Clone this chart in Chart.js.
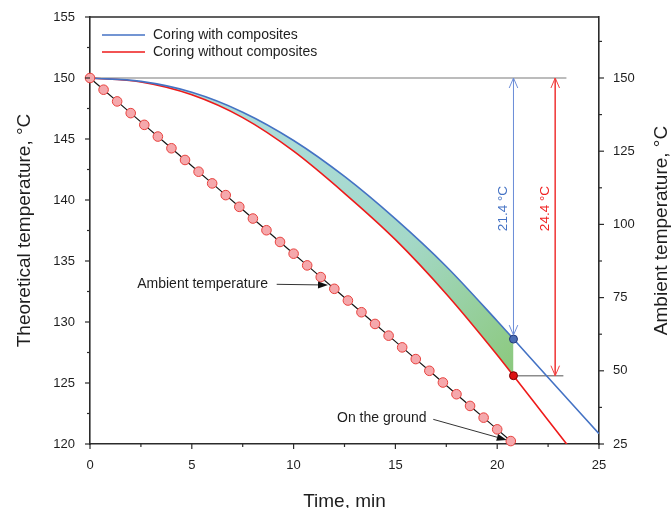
<!DOCTYPE html>
<html>
<head>
<meta charset="utf-8">
<script src="https://cdn.jsdelivr.net/npm/chart.js@4.4.0/dist/chart.umd.min.js"></script>
<style>
  html, body { margin: 0; padding: 0; background: #fff; }
  #wrap { width: 672px; height: 508px; position: relative; }
</style>
</head>
<body>
<div id="wrap"><canvas id="chart"></canvas></div>
<script>
// Model curves (time in min, temperature on left axis)
const curveTimes = [0, 2.5, 5, 7.5, 10, 12.5, 15, 17.5, 20, 20.8, 22.5, 25];
const withComposites = [150, 149.72, 148.83, 147.2, 144.88, 141.93, 138.45, 134.55, 130.08, 128.6, 125.45, 120.85];
const withoutComposites = [150, 149.67, 148.62, 146.75, 144.0, 140.55, 136.75, 132.3, 127.3, 125.6, 121.95, 116.6];

// Ambient temperature samples (right axis)
const ambientTimes = [0, 0.667, 1.333, 2, 2.667, 3.333, 4, 4.667, 5.333, 6, 6.667, 7.333, 8, 8.667, 9.333, 10,
  10.667, 11.333, 12, 12.667, 13.333, 14, 14.667, 15.333, 16, 16.667, 17.333, 18, 18.667, 19.333, 20, 20.667];
const ambientTemps = [150, 146, 142, 138, 134, 130, 126, 122, 118, 114, 110, 106, 102, 98, 94, 90,
  86, 82, 78, 74, 70, 66, 62, 58, 54, 50, 46, 42, 38, 34, 30, 26];

// Core reaching the ground
const groundTime = 20.8;
const groundWith = 128.6;
const groundWithout = 125.6;
const startTemp = 150;
const dropLabels = ['21.4 °C', '24.4 °C'];
const redArrowTime = 22.85;
const topLineEnd = 23.4;
const lowLineEnd = 23.25;

// Axis ranges
const xRange = [0, 25];
const yRange = [120, 155];
const y2Range = [25, 170.83];

const BLUE = '#4472c4';
const RED = '#ee1a1a';
const GREY = '#a6a6a6';
const FONT = '"Liberation Sans", Arial, sans-serif';

Chart.defaults.font.family = FONT;
Chart.defaults.color = '#1e1e1e';

function toPoints(xs, ys) {
  return xs.map((x, i) => ({ x, y: ys[i] }));
}

const fillCount = curveTimes.indexOf(groundTime) + 1;

// Gradient between the two curves
function fillGradient(context) {
  const chart = context.chart;
  const { ctx, chartArea, scales } = chart;
  if (!chartArea) return '#a8dacd';
  const g = ctx.createLinearGradient(
    scales.x.getPixelForValue(9), scales.y.getPixelForValue(145),
    scales.x.getPixelForValue(groundTime), scales.y.getPixelForValue(126));
  g.addColorStop(0, '#acdcd8');
  g.addColorStop(0.5, '#a4d8c8');
  g.addColorStop(1, '#8cc97e');
  return g;
}

// Arrow helpers
function openHead(ctx, x, y, dir, color) {
  ctx.strokeStyle = color;
  ctx.lineWidth = 1;
  ctx.beginPath();
  ctx.moveTo(x - 4.3, y + dir * 10);
  ctx.lineTo(x, y);
  ctx.lineTo(x + 4.3, y + dir * 10);
  ctx.stroke();
}

function pointerArrow(ctx, x1, y1, x2, y2) {
  const ang = Math.atan2(y2 - y1, x2 - x1);
  const len = 10, half = 3.5;
  const bx = x2 - len * Math.cos(ang), by = y2 - len * Math.sin(ang);
  ctx.strokeStyle = '#333';
  ctx.lineWidth = 1;
  ctx.beginPath();
  ctx.moveTo(x1, y1);
  ctx.lineTo(bx, by);
  ctx.stroke();
  ctx.fillStyle = '#111';
  ctx.beginPath();
  ctx.moveTo(x2, y2);
  ctx.lineTo(bx - half * Math.sin(ang), by + half * Math.cos(ang));
  ctx.lineTo(bx + half * Math.sin(ang), by - half * Math.cos(ang));
  ctx.closePath();
  ctx.fill();
}

function drawTicks(ctx, scale, isMinor, isMajor, side) {
  const area = scale.chart.chartArea;
  ctx.strokeStyle = '#2b2b2b';
  ctx.lineWidth = 1.2;
  scale.ticks.forEach(t => {
    const v = t.value;
    if (!isMinor(v)) return;
    const len = isMajor(v) ? 5 : 3;
    const p = scale.getPixelForValue(v);
    ctx.beginPath();
    if (side === 'bottom') { ctx.moveTo(p, area.bottom); ctx.lineTo(p, area.bottom + len); }
    if (side === 'left') { ctx.moveTo(area.left, p); ctx.lineTo(area.left - len, p); }
    if (side === 'right') { ctx.moveTo(area.right, p); ctx.lineTo(area.right + len, p); }
    ctx.stroke();
  });
}

const decorPlugin = {
  id: 'decor',
  afterDatasetsDraw(chart) {
    const { ctx, scales } = chart;
    const x = scales.x, y = scales.y;
    ctx.save();

    // Drop arrows
    const bx = x.getPixelForValue(groundTime);
    const rx = x.getPixelForValue(redArrowTime);
    openHead(ctx, bx, y.getPixelForValue(startTemp), 1, '#6f8fd8');
    openHead(ctx, bx, y.getPixelForValue(groundWith) - 4, -1, '#6f8fd8');
    openHead(ctx, rx, y.getPixelForValue(startTemp), 1, '#f04040');
    openHead(ctx, rx, y.getPixelForValue(groundWithout), -1, '#f04040');

    // Drop labels
    ctx.font = '13.5px ' + FONT;
    ctx.textAlign = 'center';
    ctx.textBaseline = 'middle';
    [[groundTime, BLUE, -10], [redArrowTime, '#f02020', -10]].forEach(([t, c, dx], i) => {
      ctx.save();
      ctx.translate(x.getPixelForValue(t) + dx, y.getPixelForValue(139.3));
      ctx.rotate(-Math.PI / 2);
      ctx.fillStyle = c;
      ctx.fillText(dropLabels[i], 0, 0);
      ctx.restore();
    });

    // Pointer labels
    ctx.font = '14px ' + FONT;
    ctx.fillStyle = '#1e1e1e';
    ctx.textAlign = 'right';
    ctx.fillText('Ambient temperature', x.getPixelForValue(8.74), y.getPixelForValue(133.1));
    pointerArrow(ctx, x.getPixelForValue(9.17), y.getPixelForValue(133.09),
      x.getPixelForValue(11.69), y.getPixelForValue(133.03));
    ctx.fillStyle = '#1e1e1e';
    ctx.fillText('On the ground', x.getPixelForValue(16.53), y.getPixelForValue(122.16));
    pointerArrow(ctx, x.getPixelForValue(16.86), y.getPixelForValue(122.02),
      x.getPixelForValue(20.47), y.getPixelForValue(120.33));
    ctx.restore();
  },
  afterDraw(chart) {
    const { ctx, chartArea, scales } = chart;
    ctx.save();

    // Frame top
    ctx.strokeStyle = '#2b2b2b';
    ctx.lineWidth = 1.6;
    ctx.beginPath();
    ctx.moveTo(chartArea.left, chartArea.top);
    ctx.lineTo(chartArea.right, chartArea.top);
    ctx.stroke();

    drawTicks(ctx, scales.x, v => v % 2.5 === 0, v => v % 5 === 0, 'bottom');
    drawTicks(ctx, scales.y, v => v % 2.5 === 0, v => v % 5 === 0, 'left');
    drawTicks(ctx, scales.y2, v => (v - 25) % 12.5 === 0, v => v % 25 === 0, 'right');

    // Legend
    const items = [
      { color: BLUE, text: 'Coring with composites', dy: 18 },
      { color: RED, text: 'Coring without composites', dy: 35 }
    ];
    ctx.font = '14px ' + FONT;
    ctx.textAlign = 'left';
    ctx.textBaseline = 'middle';
    items.forEach(it => {
      const ly = chartArea.top + it.dy;
      ctx.strokeStyle = it.color;
      ctx.lineWidth = 1.5;
      ctx.beginPath();
      ctx.moveTo(chartArea.left + 12, ly);
      ctx.lineTo(chartArea.left + 55, ly);
      ctx.stroke();
      ctx.fillStyle = '#1e1e1e';
      ctx.fillText(it.text, chartArea.left + 63, ly);
    });

    // Right axis title (reads bottom to top)
    ctx.save();
    ctx.translate(662, (chartArea.top + chartArea.bottom) / 2);
    ctx.rotate(-Math.PI / 2);
    ctx.font = '19px ' + FONT;
    ctx.textAlign = 'center';
    ctx.fillStyle = '#1e1e1e';
    ctx.fillText('Ambient temperature, °C', 0, 0);
    ctx.restore();

    ctx.restore();
  }
};

const axisBorder = { display: true, color: '#2b2b2b', width: 1.6 };
const tickFont = { size: 13 };

new Chart(document.getElementById('chart'), {
  type: 'line',
  data: {
    datasets: [
      {
        label: 'dot with', data: [{ x: groundTime, y: groundWith }], showLine: false, clip: false,
        pointRadius: 4, pointBackgroundColor: '#4a6db5', pointBorderColor: '#23397a', pointBorderWidth: 1
      },
      {
        label: 'dot without', data: [{ x: groundTime, y: groundWithout }], showLine: false, clip: false,
        pointRadius: 4, pointBackgroundColor: '#dd1212', pointBorderColor: '#7a0000', pointBorderWidth: 1
      },
      {
        label: 'Ambient temperature', data: toPoints(ambientTimes, ambientTemps), yAxisID: 'y2', clip: false,
        borderColor: '#151515', borderWidth: 1.2, pointRadius: 4.8,
        pointBackgroundColor: '#f5a8ac', pointBorderColor: '#e8423e', pointBorderWidth: 1
      },
      {
        label: 'Coring with composites', data: toPoints(curveTimes, withComposites),
        borderColor: BLUE, borderWidth: 1.6, pointRadius: 0, cubicInterpolationMode: 'monotone'
      },
      {
        label: 'Coring without composites', data: toPoints(curveTimes, withoutComposites),
        borderColor: RED, borderWidth: 1.6, pointRadius: 0, cubicInterpolationMode: 'monotone'
      },
      {
        label: 'blue drop', data: [{ x: groundTime, y: startTemp }, { x: groundTime, y: groundWith }],
        borderColor: '#6f8fd8', borderWidth: 1, pointRadius: 0
      },
      {
        label: 'red drop', data: [{ x: redArrowTime, y: startTemp }, { x: redArrowTime, y: groundWithout }],
        borderColor: '#f04040', borderWidth: 1, pointRadius: 0
      },
      {
        label: 'start line', data: [{ x: 0, y: startTemp }, { x: topLineEnd, y: startTemp }],
        borderColor: GREY, borderWidth: 1.5, pointRadius: 0
      },
      {
        label: 'ground line', data: [{ x: groundTime, y: groundWithout }, { x: lowLineEnd, y: groundWithout }],
        borderColor: '#8c8c8c', borderWidth: 1.5, pointRadius: 0
      },
      {
        label: 'fill top', data: toPoints(curveTimes.slice(0, fillCount), withComposites.slice(0, fillCount)),
        borderWidth: 0, pointRadius: 0, fill: false, cubicInterpolationMode: 'monotone'
      },
      {
        label: 'fill bottom', data: toPoints(curveTimes.slice(0, fillCount), withoutComposites.slice(0, fillCount)),
        borderWidth: 0, pointRadius: 0, cubicInterpolationMode: 'monotone',
        fill: { target: 9 }, backgroundColor: fillGradient
      }
    ]
  },
  options: {
    responsive: true,
    maintainAspectRatio: false,
    animation: false,
    layout: { padding: { top: 17, left: 0, right: 0, bottom: 0 } },
    plugins: {
      legend: { display: false },
      tooltip: { enabled: false }
    },
    scales: {
      x: {
        type: 'linear', min: xRange[0], max: xRange[1],
        afterFit: s => { s.height = 64; },
        grid: { display: false, drawTicks: true, tickLength: 6 },
        border: axisBorder,
        ticks: {
          stepSize: 2.5, autoSkip: false, maxRotation: 0, padding: 8, font: tickFont,
          callback: v => (v % 5 === 0 ? v : '')
        },
        title: {
          display: true, text: 'Time, min', font: { size: 19, lineHeight: 1 },
          padding: { top: 0, bottom: -3.5 }
        }
      },
      y: {
        position: 'left', min: yRange[0], max: yRange[1],
        afterFit: s => { s.width = 90; },
        grid: { display: false, drawTicks: true, tickLength: 6 },
        border: axisBorder,
        ticks: {
          stepSize: 2.5, autoSkip: false, padding: 9, font: tickFont,
          callback: v => (v % 5 === 0 ? v : '')
        },
        title: {
          display: true, text: 'Theoretical temperature, °C', font: { size: 19, lineHeight: 1 },
          padding: { top: 15.5, bottom: 0 }
        }
      },
      y2: {
        position: 'right', min: y2Range[0], max: y2Range[1],
        afterFit: s => { s.width = 73; },
        grid: { display: false, drawTicks: true, tickLength: 6 },
        border: axisBorder,
        ticks: {
          stepSize: 12.5, autoSkip: false, padding: 8, font: tickFont,
          callback: v => (v % 25 === 0 && v <= 150 ? v : '')
        }
      }
    }
  },
  plugins: [decorPlugin]
});
</script>
</body>
</html>
